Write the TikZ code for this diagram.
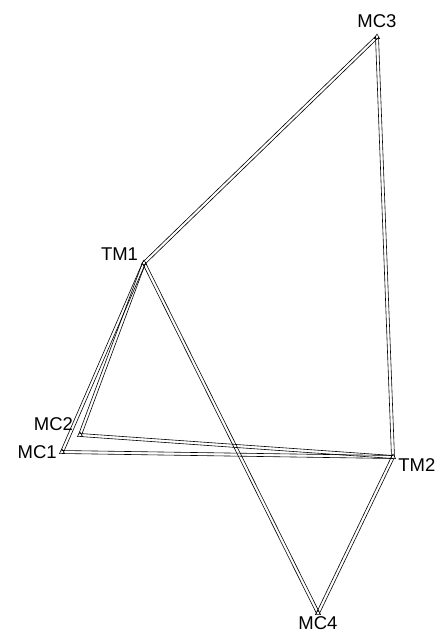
\documentclass[tikz,border=0pt]{standalone}
\usepackage{fontspec}
\setmainfont{Liberation Sans}
\usetikzlibrary{calc,shapes.geometric}
\tikzset{
  site/.style={regular polygon,regular polygon sides=3,draw,inner sep=0pt,
               minimum size=6pt,line width=0.5pt},
  wire/.style={line width=0.6pt},
  tag/.style={font=\fontsize{18.5}{18.5}\selectfont,inner sep=1pt},
}

\begin{document}
\begin{tikzpicture}[x=1pt,y=-1pt]
  \useasboundingbox (0,0) rectangle (445,635);
  % sites
  \node[site,label={[tag,label distance=5pt]above:MC3}] (mc3) at (377,37) {};
  \node[site,label={[tag,label distance=3pt]170:TM1}] (tm1) at (144,263) {};
  \node[site,label={[tag,label distance=5pt]150:MC2}] (mc2) at (80,435) {};
  \node[site,label={[tag,label distance=2pt]left:MC1}] (mc1) at (62,452) {};
  \node[site,label={[tag,label distance=2pt]-10:TM2}] (tm2) at (393,457) {};
  \node[site,label={[tag,label distance=1pt]below:MC4}] (mc4) at (318,613) {};
  % double links
  \foreach \p/\q in {mc3/tm1,mc3/tm2,tm1/mc2,tm1/mc1,tm1/mc4,mc2/tm2,mc1/tm2,tm2/mc4}{
    \draw[wire] ($(\p)!1.5pt!90:(\q)$) -- ($(\q)!1.5pt!-90:(\p)$);
    \draw[wire] ($(\p)!1.5pt!-90:(\q)$) -- ($(\q)!1.5pt!90:(\p)$);
  }
\end{tikzpicture}
\end{document}
